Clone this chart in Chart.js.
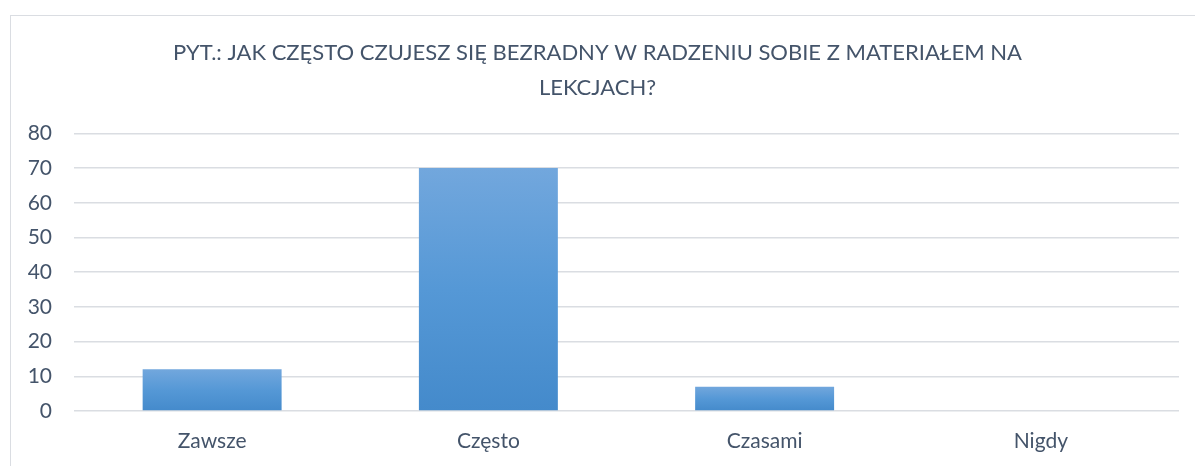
<!DOCTYPE html>
<html>
<head>
<meta charset="utf-8">
<script src="https://cdn.jsdelivr.net/npm/chart.js@4"></script>
<style>
  html, body { margin: 0; padding: 0; background: #fff; overflow: hidden; }
  #wrap { position: relative; width: 1195px; height: 466px; }
  #frame { position: absolute; left: 10px; top: 15px; width: 1200px; height: 470px; border: 1px solid #dadde2; box-sizing: border-box; }
  canvas { position: absolute; left: 0; top: 0; }
</style>
</head>
<body>
<div id="wrap">
  <div id="frame"></div>
  <canvas id="c" width="1195" height="466"></canvas>
</div>
<script>
const titleLines = ['PYT.: JAK CZĘSTO CZUJESZ SIĘ BEZRADNY W RADZENIU SOBIE Z MATERIAŁEM NA', 'LEKCJACH?'];
const categories = ['Zawsze', 'Często', 'Czasami', 'Nigdy'];
const values = [12, 70, 7, 0];
const yTicks = [0, 10, 20, 30, 40, 50, 60, 70, 80];

const textColor = '#44546A';
const fontFamily = 'Lato, "Open Sans", sans-serif';

function barGradient(ctx) {
  const chart = ctx.chart;
  const area = chart.chartArea;
  if (!area || ctx.type !== 'data') return '#5B9BD5';
  const y = chart.scales.y;
  const top = y.getPixelForValue(ctx.raw);
  const bottom = y.getPixelForValue(0);
  if (Math.abs(bottom - top) < 1) return '#5B9BD5';
  const g = chart.ctx.createLinearGradient(0, top, 0, bottom);
  g.addColorStop(0, '#72A7DD');
  g.addColorStop(0.5, '#5598D6');
  g.addColorStop(1, '#448ACB');
  return g;
}

new Chart(document.getElementById('c'), {
  type: 'bar',
  data: {
    labels: categories,
    datasets: [{
      data: values,
      backgroundColor: barGradient,
      borderWidth: 0,
      categoryPercentage: 1,
      barPercentage: 0.503
    }]
  },
  options: {
    responsive: false,
    animation: false,
    devicePixelRatio: 1,
    layout: { padding: 0 },
    plugins: {
      legend: { display: false },
      tooltip: { enabled: false },
      title: {
        display: true,
        text: titleLines,
        color: textColor,
        font: { family: fontFamily, size: 22, weight: 'normal', lineHeight: 1.6 },
        padding: { top: 35, bottom: 28 }
      }
    },
    scales: {
      x: {
        grid: { display: false },
        border: { display: false },
        ticks: { color: textColor, font: { family: fontFamily, size: 21 }, padding: 10 },
        afterFit: (s) => { s.height = 55; }
      },
      y: {
        min: 0,
        max: 80,
        afterBuildTicks: (s) => { s.ticks = yTicks.map(v => ({ value: v })); },
        grid: { color: '#dadde2', lineWidth: 1.5, drawTicks: false },
        border: { display: false },
        ticks: { color: textColor, font: { family: fontFamily, size: 21 }, padding: 22 },
        afterFit: (s) => { s.width = 74; }
      },
      yRight: {
        position: 'right',
        display: true,
        grid: { display: false },
        border: { display: false },
        ticks: { display: false },
        afterFit: (s) => { s.width = 16; }
      }
    }
  }
});
</script>
</body>
</html>
